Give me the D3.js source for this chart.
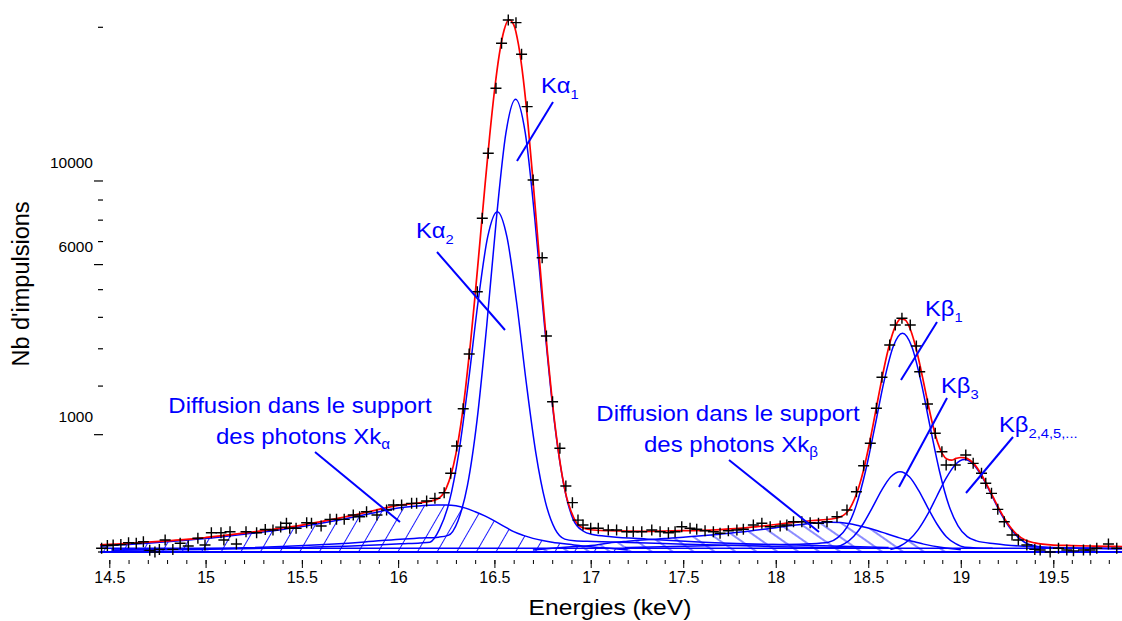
<!DOCTYPE html>
<html>
<head>
<meta charset="utf-8">
<script src="https://cdn.jsdelivr.net/npm/d3@7"></script>
<style>
    body { margin: 0; background: #fff; }
    svg { display: block; font-family: 'Liberation Sans', Arial, sans-serif; }
</style>
</head>
<body>
<div id="chart"></div>
<script>
//Colores fijos
const COLOR_AJUST = '#ff0000',
COLOR_COMP = '#0000ff',
COLOR_MESURE = '#000000';

//Mesures (+)
const energiesMesures = [14.46, 14.49, 14.52, 14.56, 14.6, 14.64, 14.677, 14.71, 14.737, 14.76, 14.79, 14.83, 14.868, 14.91, 14.96, 14.997,
    15.03, 15.08, 15.095, 15.127, 15.16, 15.21, 15.265, 15.31, 15.35, 15.39, 15.42, 15.437, 15.47, 15.525, 15.55, 15.6, 15.646, 15.68,
    15.72, 15.767, 15.8, 15.836, 15.89, 15.94, 15.976, 16.018, 16.07, 16.096, 16.148, 16.191, 16.239, 16.273, 16.304, 16.338, 16.369,
    16.411, 16.437, 16.468, 16.508, 16.537, 16.572, 16.612, 16.641, 16.67, 16.701, 16.748, 16.77, 16.802, 16.84, 16.871, 16.905, 16.934,
    16.96, 17.0, 17.041, 17.095, 17.14, 17.195, 17.23, 17.276, 17.33, 17.375, 17.42, 17.456, 17.492, 17.537, 17.573, 17.618, 17.663,
    17.699, 17.744, 17.79, 17.825, 17.879, 17.925, 17.97, 18.024, 18.06, 18.096, 18.141, 18.186, 18.231, 18.277, 18.331, 18.385, 18.436,
    18.475, 18.511, 18.544, 18.574, 18.616, 18.646, 18.682, 18.727, 18.76, 18.778, 18.82, 18.862, 18.898, 18.921, 18.97, 19.027, 19.067,
    19.112, 19.135, 19.166, 19.2, 19.235, 19.277, 19.311, 19.357, 19.4, 19.429, 19.483, 19.528, 19.573, 19.609, 19.663, 19.699, 19.735,
    19.798, 19.843];
const impulsionsMesures = [1, 3, 3.6, 4, 6.3, 5.5, 7.7, 0.2, 0, 0.5, 10.5, 0.5, 5.5, 2.6, 13.6, 3.6,
    27, 27, 10.5, 30, 4.6, 30, 27, 37, 35, 45, 60, 41, 41, 62, 60, 49, 77.5, 77.5,
    77.5, 99.5, 90.5, 118, 99.5, 128, 160, 160, 172, 172, 189, 209, 255, 450, 816, 1492, 2848,
    4923, 8091, 11550, 15621, 18800, 20563, 20355, 17996, 14407, 10054, 6293, 3389, 1641, 781, 316, 177, 74,
    53, 41, 40.8, 35, 35, 30, 30, 30, 35, 30, 27, 30, 46.5, 40.8, 37.4, 33, 30,
    25.4, 33, 35, 37.4, 53, 59.8, 46.5, 49, 53, 66.7, 66.7, 62, 60, 66.7, 90.5, 128, 264,
    541, 858, 1500, 2217, 3113, 3744, 3968, 3744, 3083, 2362, 1591, 1024, 731, 550, 550, 684, 571,
    450, 343, 250, 132, 66.7, 21, 10.5, 3.6, 0.5, 0.3, 0, 1, 0.3, 0.1, 0.3, 0.3, 1,
    4.6, 1];

//Ajustement total (rouge)
const energiesAjust = [14.45, 14.5, 14.6, 14.7, 14.8, 14.9, 15.0, 15.1, 15.2, 15.3, 15.4, 15.5, 15.6, 15.7, 15.8, 15.9, 16.0, 16.1,
    16.2, 16.25, 16.275, 16.3, 16.325, 16.35, 16.375, 16.4, 16.425, 16.45, 16.475, 16.5, 16.525, 16.55, 16.575, 16.6, 16.625, 16.65,
    16.675, 16.7, 16.725, 16.75, 16.775, 16.8, 16.825, 16.85, 16.875, 16.9, 16.925, 16.95, 17.0, 17.1, 17.2, 17.3, 17.4, 17.5, 17.6,
    17.7, 17.8, 17.9, 18.0, 18.1, 18.2, 18.3, 18.35, 18.4, 18.45, 18.475, 18.5, 18.525, 18.55, 18.575, 18.6, 18.625, 18.65, 18.675,
    18.7, 18.725, 18.75, 18.775, 18.8, 18.825, 18.85, 18.875, 18.9, 18.925, 18.95, 18.975, 19.0, 19.025, 19.05, 19.075, 19.1, 19.125,
    19.15, 19.175, 19.2, 19.225, 19.25, 19.275, 19.3, 19.35, 19.4, 19.5, 19.6, 19.7, 19.8, 19.88];
const impulsionsAjust = [3.8, 4.3, 5.4, 7, 9, 11.5, 15.3, 20, 26, 33, 42, 52.5, 67, 85, 106, 132, 158, 174,
    201, 296, 436, 700, 1168, 1947, 3132, 4815, 7010, 9643, 12539, 15421, 17950, 19770, 20580, 20211, 18694, 16241,
    13219, 10060, 7145, 4728, 2910, 1672, 897, 449, 217, 115, 64, 45, 36, 33, 31.5, 31, 32, 33, 34,
    36.5, 40.4, 47, 55, 64, 72, 79, 90, 137, 312, 492, 770, 1156, 1646, 2213, 2805, 3345, 3748, 3948,
    3908, 3638, 3187, 2637, 2069, 1559, 1152, 870, 703, 628, 613, 636, 649, 644, 611, 555, 477, 387,
    298, 218, 151, 100, 63, 39, 24, 10, 6, 3.5, 3, 2.6, 2.3, 2.2];

//Composantes (bleu)
const energiesKa1 = [14.51, 15.01, 15.51, 15.81, 16.01, 16.11, 16.21, 16.26, 16.31, 16.36, 16.41, 16.46, 16.51, 16.56, 16.61, 16.66,
    16.71, 16.76, 16.81, 16.86, 16.91, 16.96, 17.01, 17.11, 17.31, 17.61, 18.11, 18.61];
const impulsionsKa1 = [0.3, 0.8, 3, 7, 12, 14, 16, 20, 69, 322, 1268, 3720, 8040, 12770, 14889, 12770,
    8040, 3725, 1275, 330, 75, 32, 22, 17, 12, 7, 3.5, 1.5];

const energiesKa2 = [14.515, 15.015, 15.515, 15.815, 16.015, 16.115, 16.165, 16.215, 16.265, 16.315, 16.365, 16.415, 16.465, 16.515,
    16.565, 16.615, 16.665, 16.715, 16.765, 16.815, 16.865, 16.915, 17.015, 17.515, 18.015, 18.515];
const impulsionsKa2 = [0.2, 0.5, 1.5, 3, 5, 6, 7, 38, 181, 715, 2100, 4540, 7210, 8413,
    7210, 4540, 2100, 715, 181, 38, 12, 9, 8, 4.5, 2, 1];

const energiesKb1 = [17.185, 17.685, 17.985, 18.185, 18.285, 18.335, 18.385, 18.435, 18.485, 18.535, 18.585, 18.635, 18.685, 18.735,
    18.785, 18.835, 18.885, 18.935, 18.985, 19.035, 19.085, 19.185, 19.385, 19.685, 19.885];
const impulsionsKb1 = [1.5, 3, 4, 5, 7, 15, 45, 158, 474, 1128, 2108, 3067, 3475, 3067,
    2108, 1128, 474, 160, 50, 17, 9, 5, 2, 1, 0.8];

const energiesKb3 = [18.172, 18.322, 18.372, 18.422, 18.472, 18.522, 18.572, 18.622, 18.672, 18.722, 18.772, 18.822, 18.872, 18.922,
    18.972, 19.022, 19.172];
const impulsionsKb3 = [1, 1.7, 5, 18, 57, 143, 276, 411, 469, 411, 276, 142, 56, 17, 5, 1.7, 1];

const energiesKb2 = [18.62, 18.67, 18.72, 18.77, 18.82, 18.87, 18.92, 18.97, 19.02, 19.07, 19.12, 19.17, 19.22, 19.27, 19.32, 19.37,
    19.47, 19.67, 19.87];
const impulsionsKb2 = [0.4, 2.4, 10.5, 36.5, 101, 224, 394, 554, 620, 554, 394, 224, 101, 38, 12.5, 4, 1.5, 1, 0.8];

//Diffusion dans le support
const energiesDiffKa = [14.45, 14.5, 14.6, 14.7, 14.8, 14.9, 15.0, 15.1, 15.2, 15.3, 15.4, 15.5, 15.6, 15.7, 15.8, 15.9, 16.0, 16.1,
    16.2, 16.25, 16.3, 16.35, 16.4, 16.45, 16.5, 16.55, 16.6, 16.65, 16.7, 16.75, 16.8, 16.9, 17.0, 17.1, 17.2];
const impulsionsDiffKa = [2.5, 3, 4, 5.5, 7.5, 10, 13, 17.5, 23, 29, 37, 47, 60, 76, 95, 118, 140, 153,
    160, 160, 155, 140, 118, 95, 70, 48, 30, 20, 13.5, 9.5, 7, 4, 2, 1, 0.3];

const energiesDiffKb = [16.7, 16.8, 16.9, 17.0, 17.1, 17.2, 17.3, 17.4, 17.5, 17.6, 17.7, 17.8, 17.9, 18.0, 18.1, 18.2, 18.3, 18.35,
    18.4, 18.45, 18.5, 18.55, 18.6, 18.65, 18.7, 18.75, 18.8, 18.9, 19.0];
const impulsionsDiffKb = [0.3, 1, 2, 3, 6, 8.5, 11, 13, 16, 19, 23, 28, 35, 43, 52, 60, 64, 63,
    58, 50, 42, 33, 24, 17, 11, 7.5, 4.5, 1.5, 0.4];

//Fond
const energiesFond = [14.45, 19.88];
const impulsionsFond = [1, 1];

//Axes
const xTickLabels = [14.5, 15, 15.5, 16, 16.5, 17, 17.5, 18, 18.5, 19, 19.5];
const yTicks = [1000, 2000, 3000, 4000, 5000, 6000, 7000, 8000, 9000, 10000, 20000];
const yTickLabels = [1000, 6000, 10000];

function zip(e, n) {
    return e.map(function(d, i) { return { e: d, n: n[i] }; });
}

let svg = d3.select('#chart')
    .append('svg')
        .attr('width', 1122)
        .attr('height', 621);

//Echelle x lue sur l'axe gradué (pas régulier différent des deux côtés de 17)
let x = d3.scaleLinear()
    .domain([14.5, 17, 19.5])
    .range([109.3, 590.7, 1053.3]);

let y = d3.scaleSqrt()
    .domain([0, 20000])
    .range([552, 27.3]);

let defs = svg.append('defs');

defs.append('clipPath')
    .attr('id', 'zone')
    .append('rect')
        .attr('x', 100).attr('y', 0)
        .attr('width', 1022).attr('height', 556);

function hachure(id, angle, pas) {
    defs.append('pattern')
        .attr('id', id)
        .attr('patternUnits', 'userSpaceOnUse')
        .attr('width', pas)
        .attr('height', 20)
        .attr('patternTransform', 'rotate(' + angle + ')')
        .append('line')
            .attr('x1', pas / 2).attr('x2', pas / 2)
            .attr('y1', 0).attr('y2', 20)
            .attr('stroke', COLOR_COMP)
            .attr('stroke-width', 0.9);
}
hachure('hachKa', 30, 17);
hachure('hachKb', -55, 12);

//Axe x
let xAxis = function(g) {
    g.call(d3.axisBottom(x).tickValues(xTickLabels).tickSize(8).tickPadding(4)
        .tickFormat(function(d) { return String(+d.toFixed(1)); }));
    g.call(function(g) { g.select('.domain').remove(); });
    g.selectAll('text').attr('font-size', 16).attr('font-family', null).attr('fill', '#000');
}
let xMinor = function(g) {
    g.call(d3.axisBottom(x).tickValues(d3.range(145, 199).map(function(d) { return d / 10; })).tickSize(4).tickFormat(''));
    g.call(function(g) { g.select('.domain').remove(); });
}

svg.append('g')
    .attr('transform', 'translate(0,560)')
    .call(xMinor);

svg.append('g')
    .attr('transform', 'translate(0,560)')
    .call(xAxis);

//Axe y (étiquettes décalées au-dessus des graduations, comme sur l'original)
let yAxis = svg.append('g').attr('class', 'yaxis');

yAxis.selectAll('line')
    .data([0].concat(yTicks))
    .enter()
    .append('line')
    .attr('x1', function(d) { return yTickLabels.indexOf(d) >= 0 ? 94 : 98; })
    .attr('x2', 103)
    .attr('y1', function(d) { return y(d); })
    .attr('y2', function(d) { return y(d); })
    .attr('stroke', '#000')
    .attr('stroke-width', 1.2);

yAxis.selectAll('text')
    .data(yTickLabels)
    .enter()
    .append('text')
    .attr('x', 93)
    .attr('y', function(d) { return y(d) - 13; })
    .attr('text-anchor', 'end')
    .attr('font-size', 15.5)
    .text(function(d) { return d; });

//Titres des axes (police élargie comme sur l'original)
svg.append('text')
    .attr('transform', 'translate(610,615) scale(1.12,1)')
    .attr('text-anchor', 'middle')
    .attr('font-size', 22)
    .text('Energies (keV)');

svg.append('text')
    .attr('transform', 'translate(29,284) rotate(-90)')
    .attr('text-anchor', 'middle')
    .attr('font-size', 23.5)
    .text("Nb d'impulsions");

//Courbes
let line = d3.line()
    .x(function(d) { return x(d.e); })
    .y(function(d) { return y(d.n); })
    .curve(d3.curveMonotoneX);

let area = d3.area()
    .x(function(d) { return x(d.e); })
    .y0(y(0))
    .y1(function(d) { return y(d.n); })
    .curve(d3.curveMonotoneX);

let courbes = svg.append('g').attr('clip-path', 'url(#zone)');

courbes.append('path')
    .datum(zip(energiesDiffKa, impulsionsDiffKa))
    .attr('d', area)
    .attr('fill', 'url(#hachKa)');

courbes.append('path')
    .datum(zip(energiesDiffKb, impulsionsDiffKb))
    .attr('d', area)
    .attr('fill', 'url(#hachKb)');

let composantes = [
    zip(energiesFond, impulsionsFond),
    zip(energiesDiffKa, impulsionsDiffKa),
    zip(energiesDiffKb, impulsionsDiffKb),
    zip(energiesKa1, impulsionsKa1),
    zip(energiesKa2, impulsionsKa2),
    zip(energiesKb1, impulsionsKb1),
    zip(energiesKb3, impulsionsKb3),
    zip(energiesKb2, impulsionsKb2)
];

courbes.append('line')
    .attr('x1', x(14.45)).attr('x2', x(19.88))
    .attr('y1', y(0)).attr('y2', y(0))
    .attr('stroke', COLOR_COMP)
    .attr('stroke-width', 2.2);

courbes.selectAll('.comp')
    .data(composantes)
    .enter()
    .append('path')
    .attr('class', 'comp')
    .attr('d', line)
    .attr('fill', 'none')
    .attr('stroke', COLOR_COMP)
    .attr('stroke-width', 1.5);

courbes.append('path')
    .datum(zip(energiesAjust, impulsionsAjust))
    .attr('d', line)
    .attr('fill', 'none')
    .attr('stroke', COLOR_AJUST)
    .attr('stroke-width', 1.7);

//Points de mesure
svg.append('g')
    .selectAll('path')
    .data(zip(energiesMesures, impulsionsMesures))
    .enter()
    .append('path')
    .attr('transform', function(d) { return 'translate(' + x(d.e) + ',' + y(d.n) + ')'; })
    .attr('d', 'M-5.5,0H5.5M0,-5.5V5.5')
    .attr('stroke', COLOR_MESURE)
    .attr('stroke-width', 1.4);

//Annotations
let annot = svg.append('g').attr('fill', COLOR_COMP);

function etiquette(xp, yp, base, indice, taille) {
    let t = annot.append('text')
        .attr('transform', 'translate(' + xp + ',' + yp + ') scale(1.08,1)')
        .attr('font-size', taille);
    t.append('tspan').text(base);
    t.append('tspan')
        .attr('font-size', taille * 0.62)
        .attr('dy', taille * 0.28)
        .text(indice);
}
etiquette(541, 93, 'Kα', '1', 22);
etiquette(416, 238, 'Kα', '2', 22);
etiquette(925, 316, 'Kβ', '1', 22);
etiquette(941, 393, 'Kβ', '3', 22);
etiquette(999, 432, 'Kβ', '2,4,5,...', 22);

function diffusion(xc, yb, lettre) {
    annot.append('text')
        .attr('transform', 'translate(' + xc + ',' + yb + ') scale(1.09,1)')
        .attr('text-anchor', 'middle')
        .attr('font-size', 22)
        .text('Diffusion dans le support');
    let t = annot.append('text')
        .attr('transform', 'translate(' + (xc + 3) + ',' + (yb + 31) + ') scale(1.09,1)')
        .attr('text-anchor', 'middle')
        .attr('font-size', 22);
    t.append('tspan').text('des photons Xk');
    t.append('tspan').attr('font-size', 14).attr('dy', 5).text(lettre);
}
diffusion(300, 413, 'α');
diffusion(728, 421, 'β');

let fleches = [
    [553, 102, 517, 161],
    [437, 252, 505, 330],
    [937, 322, 901, 380],
    [947, 398, 899, 487],
    [1013, 437, 966, 493],
    [315, 452, 400, 522],
    [729, 460, 819, 532]
];
annot.selectAll('line')
    .data(fleches)
    .enter()
    .append('line')
    .attr('x1', function(d) { return d[0]; })
    .attr('y1', function(d) { return d[1]; })
    .attr('x2', function(d) { return d[2]; })
    .attr('y2', function(d) { return d[3]; })
    .attr('stroke', COLOR_COMP)
    .attr('stroke-width', 2);
</script>
</body>
</html>
